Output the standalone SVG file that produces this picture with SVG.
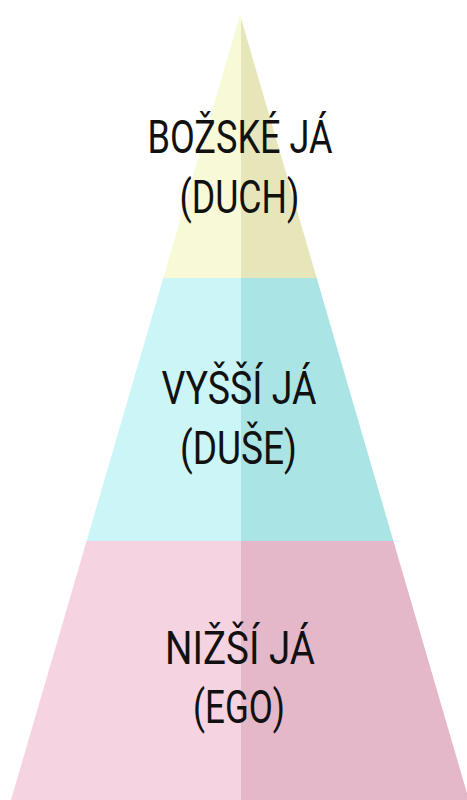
<svg xmlns="http://www.w3.org/2000/svg" width="467" height="800" viewBox="0 0 467 800">
<style>
.t{font-family:Roboto,"DejaVu Sans",sans-serif;font-weight:400;font-size:46px;fill:#111;text-anchor:middle}
</style>
<rect width="467" height="800" fill="#fff"/>
<g id="tier-top">
<polygon points="240,15 163.3,278 241,278 241,18.4" fill="#F8F9D6"/>
<polygon points="241,18.4 240,15 316.7,278 241,278" fill="#E6E6BA"/>
</g>
<g id="tier-middle">
<polygon points="163.3,278 86.6,541 241,541 241,278" fill="#CBF5F6"/>
<polygon points="241,278 316.7,278 393.4,541 241,541" fill="#ABE4E5"/>
</g>
<g id="tier-bottom">
<polygon points="86.6,541 11,800 241,800 241,541" fill="#F6D3E0"/>
<polygon points="241,541 393.4,541 469,800 241,800" fill="#E4B8C9"/>
</g>
<g id="labels">
<text class="t" x="240" y="153" textLength="185" lengthAdjust="spacingAndGlyphs">BOŽSKÉ JÁ</text>
<text class="t" x="239.5" y="213" textLength="120" lengthAdjust="spacingAndGlyphs">(DUCH)</text>
<text class="t" x="239" y="404" textLength="155" lengthAdjust="spacingAndGlyphs">VYŠŠÍ JÁ</text>
<text class="t" x="238.5" y="464" textLength="117" lengthAdjust="spacingAndGlyphs">(DUŠE)</text>
<text class="t" x="240" y="664" textLength="150" lengthAdjust="spacingAndGlyphs">NIŽŠÍ JÁ</text>
<text class="t" x="239" y="723" textLength="92" lengthAdjust="spacingAndGlyphs">(EGO)</text>
</g>
</svg>
